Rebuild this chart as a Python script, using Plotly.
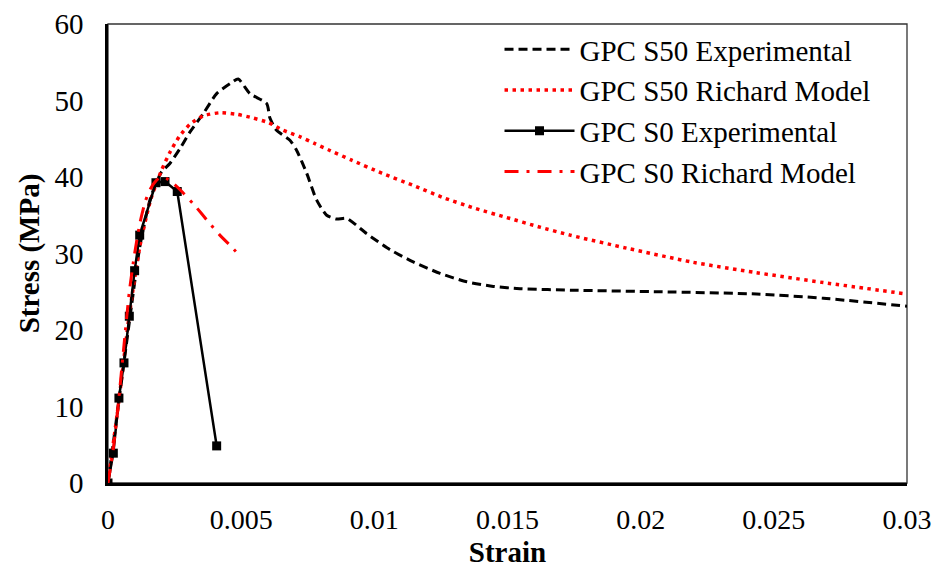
import plotly.graph_objects as go

# GPC S50 Experimental
s50_exp_strain = [0, 0.0004, 0.0008, 0.0012, 0.0016, 0.0020, 0.00233, 0.0027, 0.00308, 0.00358,
                  0.00408, 0.00458, 0.00489, 0.00533, 0.00596, 0.00608, 0.00633, 0.00683, 0.00708,
                  0.00746, 0.00783, 0.00821, 0.00858, 0.00896, 0.00971, 0.01059, 0.01146, 0.01247,
                  0.01347, 0.01447, 0.01547, 0.01747, 0.02072, 0.02435, 0.02686, 0.0300]
s50_exp_stress = [0, 10.5, 21.0, 31.0, 37.3, 40.6, 41.8, 43.7, 45.9, 48.3,
                  50.9, 52.2, 52.8, 50.9, 49.6, 47.7, 46.1, 44.8, 43.5,
                  40.5, 37.0, 35.0, 34.5, 34.6, 32.6, 30.5, 28.9, 27.4,
                  26.3, 25.7, 25.4, 25.2, 25.0, 24.7, 24.15, 23.1]

# GPC S50 Richard Model
s50_rm_strain = [0, 0.0004, 0.0008, 0.0012, 0.0016, 0.0020, 0.00235, 0.00268, 0.00308, 0.00358,
                 0.00421, 0.00483, 0.00546, 0.00603, 0.00658, 0.00718, 0.00775, 0.00831, 0.00915,
                 0.01028, 0.01146, 0.01259, 0.01378, 0.01497, 0.01616, 0.01735, 0.01947, 0.02197,
                 0.02434, 0.02686, 0.0300]
s50_rm_stress = [0, 10.5, 22.0, 31.0, 37.0, 40.8, 43.4, 45.3, 46.9, 48.0,
                 48.4, 48.2, 47.7, 47.1, 46.1, 45.3, 44.4, 43.5, 42.2,
                 40.5, 38.9, 37.3, 35.9, 34.7, 33.5, 32.4, 30.7, 28.85,
                 27.5, 26.2, 24.7]

# GPC S0 Experimental
s0_exp_strain = [0, 0.0002, 0.00041, 0.0006, 0.0008, 0.0010, 0.00119, 0.0018, 0.00214, 0.0026, 0.00408]
s0_exp_stress = [0, 3.9, 11.1, 15.7, 21.8, 27.75, 32.4, 39.25, 39.4, 38.1, 4.85]

# GPC S0 Richard Model
s0_rm_strain = [0, 0.0002, 0.0004, 0.0006, 0.0008, 0.0010, 0.0012, 0.0014, 0.0016, 0.0018, 0.0020,
                0.0022, 0.0025, 0.0028, 0.0033, 0.0038, 0.0042, 0.0046, 0.0049]
s0_rm_stress = [0, 4.5, 10.8, 18.0, 25.0, 30.0, 34.0, 36.8, 38.5, 39.5, 40.0,
                39.8, 39.0, 38.0, 36.1, 34.0, 32.4, 31.0, 29.9]

x_ticks = [0, 0.005, 0.01, 0.015, 0.02, 0.025, 0.03]
x_tick_labels = ["0", "0.005", "0.01", "0.015", "0.02", "0.025", "0.03"]
y_ticks = [0, 10, 20, 30, 40, 50, 60]

FONT = "Liberation Serif"
RED = "#FF0000"

fig = go.Figure()
fig.add_trace(go.Scatter(x=s50_exp_strain, y=s50_exp_stress, mode="lines",
                         name="GPC S50 Experimental",
                         line=dict(color="black", width=3, dash="9px,5px", shape="spline", smoothing=0.6)))
fig.add_trace(go.Scatter(x=s50_rm_strain, y=s50_rm_stress, mode="lines",
                         name="GPC S50 Richard Model",
                         line=dict(color=RED, width=3.5, dash="3.5px,4.5px", shape="spline", smoothing=0.6)))
fig.add_trace(go.Scatter(x=s0_exp_strain, y=s0_exp_stress, mode="lines+markers",
                         name="GPC S0 Experimental",
                         line=dict(color="black", width=2.5),
                         marker=dict(symbol="square", size=9, color="black")))
fig.add_trace(go.Scatter(x=s0_rm_strain, y=s0_rm_stress, mode="lines",
                         name="GPC S0 Richard Model",
                         line=dict(color=RED, width=3, dash="14px,8px,3px,8px", shape="spline", smoothing=0.6)))

fig.add_shape(type="rect", xref="paper", yref="paper", x0=0, y0=0, x1=1, y1=1,
              line=dict(color="#333333", width=1.3), layer="below")

fig.update_layout(
    width=933, height=568,
    margin=dict(l=108, r=26, t=24, b=85, autoexpand=False),
    paper_bgcolor="white", plot_bgcolor="white",
    font=dict(family=FONT, size=29, color="black"),
    showlegend=True,
    legend=dict(x=0.49, y=1.0, xanchor="left", yanchor="top",
                font=dict(family=FONT, size=29, color="black"),
                bgcolor="rgba(0,0,0,0)", borderwidth=0, itemwidth=70,
                tracegroupgap=0),
    xaxis=dict(range=[0, 0.03], tickvals=x_ticks, ticktext=x_tick_labels,
               showgrid=False, zeroline=False, showline=True, linecolor="black", linewidth=2.5,
               ticks="", ticklabelstandoff=10, automargin=False,
               tickfont=dict(family=FONT, size=28, color="black"),
               title=dict(text="<b>Strain</b>", font=dict(family=FONT, size=29, color="black"), standoff=14)),
    yaxis=dict(range=[0, 60], tickvals=y_ticks,
               showgrid=False, zeroline=False, showline=True, linecolor="black", linewidth=2.5,
               ticks="", ticklabelstandoff=16, automargin=False,
               tickfont=dict(family=FONT, size=29, color="black"),
               title=dict(text="<b>Stress (MPa)</b>", font=dict(family=FONT, size=29, color="black"), standoff=7)),
)

fig.write_html("out.html", config={"displayModeBar": False},
               post_script="document.body.style.margin='0px';")
